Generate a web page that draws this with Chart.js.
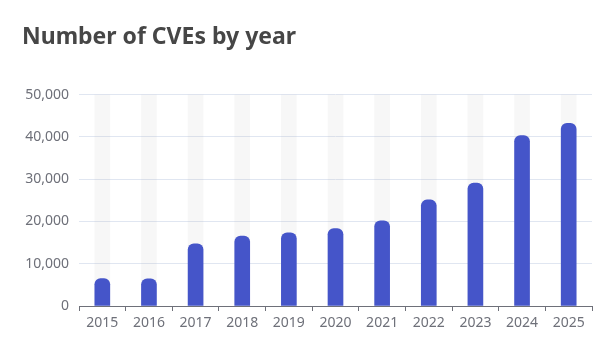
<!DOCTYPE html>
<html>
<head>
<meta charset="utf-8">
<script src="https://cdn.jsdelivr.net/npm/chart.js@4"></script>
<style>
  html, body { margin: 0; padding: 0; background: #fff; }
  #wrap { width: 614px; height: 349px; }
</style>
</head>
<body>
<div id="wrap"><canvas id="grafico" width="614" height="349"></canvas></div>
<script>
const anos = ["2015", "2016", "2017", "2018", "2019", "2020", "2021", "2022", "2023", "2024", "2025"];
const totalCves = [6494, 6454, 14714, 16557, 17308, 18325, 20171, 25082, 29066, 40303, 43200];
const fundo = [50000, 50000, 50000, 50000, 50000, 50000, 50000, 50000, 50000, 50000, 50000];

const fonte = "'Noto Sans', 'Open Sans', sans-serif";
const cinzaEixo = "#6e7079";

new Chart(document.getElementById("grafico"), {
    type: "bar",
    data: {
        labels: anos,
        datasets: [
            {
                data: totalCves,
                backgroundColor: "#4555c9",
                borderRadius: { topLeft: 6, topRight: 6 },
                borderSkipped: "start",
                barThickness: 15,
                grouped: false,
                order: 1
            },
            {
                // faixa cinza atrás de cada barra
                data: fundo,
                backgroundColor: "rgba(180, 180, 180, 0.1)",
                barThickness: 15,
                grouped: false,
                order: 2
            }
        ]
    },
    options: {
        responsive: false,
        animation: false,
        layout: { padding: { left: 22, right: 22, top: 0, bottom: 0 } },
        plugins: {
            legend: { display: false },
            tooltip: { enabled: false },
            title: {
                display: true,
                text: "Number of CVEs by year",
                align: "start",
                color: "#464646",
                font: { family: fonte, size: 23, weight: "bold" },
                padding: { top: 24, bottom: 43 }
            }
        },
        scales: {
            x: {
                grid: {
                    display: true,
                    offset: true,
                    drawOnChartArea: false,
                    drawTicks: true,
                    tickLength: 5,
                    color: cinzaEixo
                },
                border: { display: true, color: cinzaEixo, width: 1 },
                ticks: { color: cinzaEixo, font: { family: fonte, size: 14 }, padding: 4 },
                afterFit: (s) => { s.height = 43; }
            },
            y: {
                min: 0,
                max: 50000,
                ticks: {
                    stepSize: 10000,
                    color: cinzaEixo,
                    font: { family: fonte, size: 14 },
                    padding: 10,
                    callback: (v) => v.toLocaleString("en-US")
                },
                grid: { color: "#e0e6f1", drawTicks: false },
                border: { display: false },
                afterFit: (s) => { s.width = 57; }
            }
        }
    }
});
</script>
</body>
</html>
